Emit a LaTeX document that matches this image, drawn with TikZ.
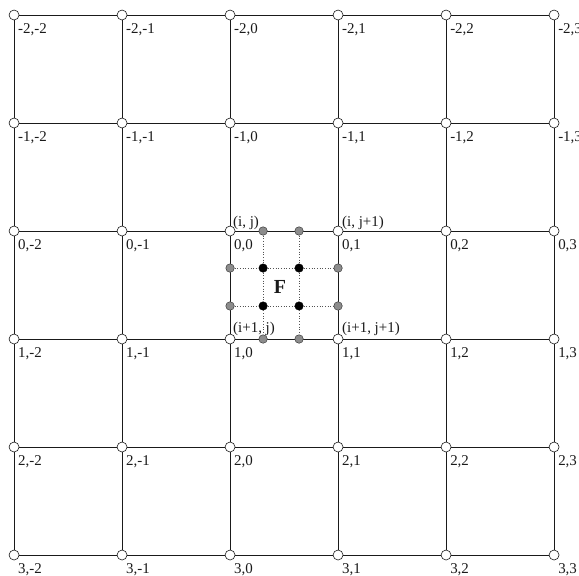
\documentclass[tikz,border=0pt]{standalone}
\usepackage{fontspec}
\setmainfont{Liberation Serif}
\usetikzlibrary{positioning}
\definecolor{ink}{HTML}{1A1A1A}
\definecolor{dotgray}{HTML}{8C8C8C}
\newcommand{\tagfont}{\fontsize{15}{17}\selectfont}
\tikzset{
 every node/.append style={font=\tagfont,text=ink},
 grid/.style={draw=ink,line width=.8pt},
 knot/.style={circle,draw=ink,fill=white,line width=.6pt,minimum size=10bp,inner sep=0pt},
 sub/.style={circle,draw=ink!85,fill=dotgray,line width=.5pt,minimum size=8.5bp,inner sep=0pt},
 sol/.style={circle,draw=black,fill=black,minimum size=8.5bp,inner sep=0pt},
 tag/.style={inner sep=0pt,anchor=base west},
 link/.style={draw=ink!75,line width=.7pt,dotted},
}

\begin{document}
\begin{tikzpicture}[x=108bp,y=-108bp]

\useasboundingbox[fill=white] (-.13,-.139) rectangle (5.231,5.194);
% coarse grid knots with their indices
\foreach \r in {0,...,5}{
 \foreach \c in {0,...,5}{
  \pgfmathtruncatemacro{\i}{\r-2}
  \pgfmathtruncatemacro{\j}{\c-2}
  \node[knot] (p\r\c) at (\c,\r) {};
  \node[tag] (t\r\c) at ([xshift=4bp,yshift=-18bp]p\r\c.center) {\i,\j};
 }
}
\foreach \r in {0,...,5}{
 \foreach \c [evaluate=\c as \d using int(\c+1)] in {0,...,4}{
  \draw[grid] (p\r\c) -- (p\r\d);
  \draw[grid] (p\c\r) -- (p\d\r);
 }
}
% fine points inside cell F
\node[sub] (gt1) at (2.306,2) {}; \node[sub] (gt2) at (2.639,2) {};
\node[sub] (gb1) at (2.306,3) {}; \node[sub] (gb2) at (2.639,3) {};
\node[sub] (gl1) at (2,2.343) {}; \node[sub] (gl2) at (2,2.694) {};
\node[sub] (gr1) at (3,2.343) {}; \node[sub] (gr2) at (3,2.694) {};
\node[sol] (b11) at (2.306,2.343) {}; \node[sol] (b12) at (2.639,2.343) {};
\node[sol] (b21) at (2.306,2.694) {}; \node[sol] (b22) at (2.639,2.694) {};
\draw[link] (gt1) -- (b11); \draw[link] (b11) -- (b21); \draw[link] (b21) -- (gb1);
\draw[link] (gt2) -- (b12); \draw[link] (b12) -- (b22); \draw[link] (b22) -- (gb2);
\draw[link] (gl1) -- (b11); \draw[link] (b11) -- (b12); \draw[link] (b12) -- (gr1);
\draw[link] (gl2) -- (b21); \draw[link] (b21) -- (b22); \draw[link] (b22) -- (gr2);
\node[font=\fontsize{20}{22}\selectfont\bfseries] (F) at (2.463,2.519) {F};
% corner names
\node[tag] (cij) at ([xshift=3bp,yshift=5bp]p22.center) {(i, j)};
\node[tag] (cij1) at ([xshift=4bp,yshift=5bp]p23.center) {(i, j+1)};
\node[tag] (ci1j) at ([xshift=3bp,yshift=7bp]p32.center) {(i+1, j)};
\node[tag] (ci1j1) at ([xshift=4bp,yshift=7bp]p33.center) {(i+1, j+1)};

\end{tikzpicture}
\end{document}
